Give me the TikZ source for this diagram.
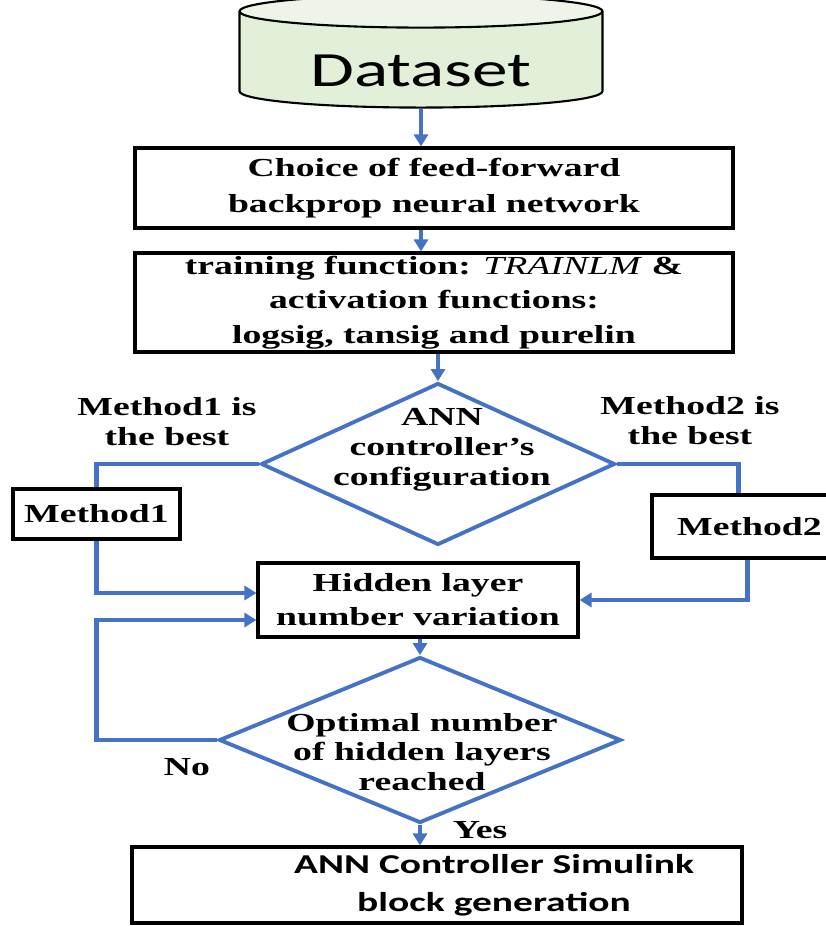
\documentclass[tikz,border=0pt]{standalone}
\usepackage{fontspec}
\setmainfont{Liberation Serif}[FakeStretch=1.45]
\newfontfamily\calfont{Carlito}[FakeStretch=1.45]
\usetikzlibrary{shapes.geometric,arrows.meta,calc}
\definecolor{flowblue}{HTML}{4472C4}
\definecolor{dsgreen}{HTML}{E2EFD9}
\tikzset{
	box/.style={draw=black, line width=1.8pt, rectangle, inner sep=0pt, align=center,
		font=\fontsize{14.8}{19.5}\selectfont\bfseries},
	dia/.style={draw=flowblue, line width=2.2pt, diamond, inner sep=0pt},
	txt/.style={inner sep=0pt, align=center, font=\fontsize{14.8}{17}\selectfont\bfseries},
	flow/.style={draw=flowblue, line width=2.7pt, -{Triangle[length=0.24cm,width=0.28cm]}},
	link/.style={draw=flowblue, line width=2.7pt},
}
\begin{document}
	\begin{tikzpicture}[x=0.02cm, y=-0.02cm]
		\useasboundingbox (0,0) rectangle (825,926);

		\node[cylinder, shape border rotate=90, aspect=0.14, draw, line width=1.2pt,
			cylinder uses custom fill, cylinder body fill=dsgreen, cylinder end fill=dsgreen!60,
			minimum width=7.26cm, minimum height=2.2cm, text height=1.05cm, text depth=0.05cm,
			font=\calfont\fontsize{28}{30}\selectfont] (data) at (421,62) {Dataset};

		\node[box, minimum width=11.96cm, minimum height=1.6cm] (choice) at (434,188)
			{Choice of feed-forward\\[1pt] backprop neural network};
		\node[box, minimum width=11.96cm, minimum height=1.98cm] (train) at (434,302.5)
			{training function: \textmd{\textit{TRAINLM}} \&\\ activation functions:\\ logsig, tansig and purelin};

		\node[dia, minimum width=7.08cm, minimum height=3.24cm] (cfg) at (438,464) {};
		\node[txt] (cfgtext) at (442,450) {ANN\\controller's\\configuration};

		\node[txt] (best1) at (167,422) {Method1 is\\the best};
		\node[txt] (best2) at (690,421) {Method2 is\\the best};

		\node[box, minimum width=3.34cm, minimum height=1cm] (m1) at (96.5,514) {Method1};
		\node[box, minimum width=3.9cm, minimum height=1.26cm] (m2) at (749.5,526.5) {Method2};

		\node[box, minimum width=6.4cm, minimum height=1.48cm] (hid) at (418,600)
			{Hidden layer\\ number variation};

		\node[dia, minimum width=8.04cm, minimum height=3.32cm] (opt) at (420,740) {};
		\node[txt] (opttext) at (422,752) {Optimal number\\of hidden layers\\reached};

		\node[txt] (no) at (187,767) {No};
		\node[txt] (yes) at (480,830) {Yes};

		\node[box, minimum width=12.2cm, minimum height=1.52cm] (sim) at (437,885) {};
		\node[inner sep=0pt, align=center, font=\calfont\fontsize{15.5}{21.5}\selectfont\bfseries]
			(simtext) at (494,885) {ANN Controller Simulink\\block generation};

		\draw[flow] (data.south) -- (data.south |- choice.north);
		\draw[flow] (choice.south -| data.south) -- (train.north -| data.south);
		\draw[flow] (cfg.north |- train.south) -- (cfg.north);
		\draw[link] (cfg.west) -| (m1.north);
		\draw[flow] (m1.south) |- ($(hid.west)+(0,-7)$);
		\draw[link] (cfg.east) -| ($(m2.north)+(-11,0)$);
		\draw[flow] ($(m2.south)+(-2,0)$) |- (hid.east);
		\draw[flow] (hid.south -| opt.north) -- (opt.north);
		\draw[flow] (opt.west) -- (opt.west -| m1.south) |- ($(hid.west)+(0,20)$);
		\draw[flow] (opt.south) -- (opt.south |- sim.north);
	\end{tikzpicture}
\end{document}
